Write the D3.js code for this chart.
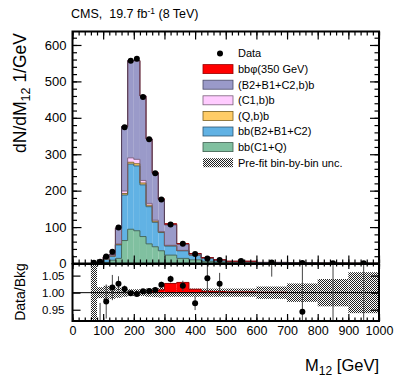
<!DOCTYPE html>
<html>
<head>
<meta charset="utf-8">
<script src="https://cdn.jsdelivr.net/npm/d3@7"></script>
<style>
body { margin: 0; background: #fff; }
svg { display: block; font-family: "Liberation Sans", Arial, sans-serif; }
</style>
</head>
<body>
<svg id="chart" width="399" height="379"></svg>
<script>
// bin edges in GeV
var binEdges = [60, 80, 100, 120, 140, 160, 180, 200, 220, 240, 260, 280, 300, 340, 380, 420, 460, 500, 600, 700, 800, 900, 1000];

// stacked backgrounds, bottom to top (per bin)
var bbC1Q     = [0.3, 1, 3, 9, 14, 63, 94, 90, 74, 54, 46, 35, 23, 14, 10, 6, 4, 2, 1, 0.5, 0.3, 0.2];
var bbB2B1C2  = [0.5, 2, 9, 11, 37, 125, 179, 178, 142, 102, 67, 50, 25, 21, 13, 8, 4, 3, 1.5, 0.7, 0.4, 0.2];
var QbB       = [0, 0, 0, 0.5, 1, 4, 5, 6, 5, 4, 3, 1.5, 1, 0.5, 0.3, 0.2, 0.1, 0.1, 0, 0, 0, 0];
var C1bB      = [0.1, 0.2, 0.5, 1, 2, 7, 12, 12, 7, 5, 3, 1.5, 1, 0.5, 0.3, 0.2, 0.1, 0.1, 0.1, 0.05, 0.02, 0.02];
var B2B1C2bB  = [0.3, 1.3, 5.5, 3.5, 43, 177, 267, 271, 232, 177, 129, 88, 56, 17, 3.4, 1.6, 1.8, 0.8, 0.4, 0.25, 0.18, 0.08];
var bbPhi350  = [0, 0, 0, 0, 0, 0, 0, 0, 0, 0, 1.2, 1.4, 2.9, 1.6, 0.27, 0.06, 0.04, 0.01, 0, 0, 0, 0];

var dataValues = [2, 5, 19, 32, 99, 374, 557, 562, 457, 341, 248, 176, 107, 54, 26, 14, 9.6, 7, 3, 1.4, 1, 0.5];

// ratio panel
var ratioValues = [0.6, 0.85, 0.974, 1.015, 1.026, 1.011, 0.998, 0.996, 1.004, 1.005, 1.008, 1.023, 1.04, 1.02, 0.969, 1.042, 1.026, 1.12, 1.11, 0.944, 0.75, 0.7];
var ratioErrors = [0.2, 0.12, 0.05, 0.037, 0.022, 0.01, 0.005, 0.005, 0.006, 0.007, 0.008, 0.009, 0.01, 0.015, 0.02, 0.045, 0.032, 0.03, 0.063, 0.2, 0.4, 0.45];
var ratioSignal = [0, 0, 0, 0, 0, 0, 0, 0, 0, 0, 0.005, 0.008, 0.027, 0.03, 0.01, 0.004, 0.003, 0.002, 0.001, 0, 0, 0];
var relUnc      = [0.2, 0.016, 0.02, 0.018, 0.015, 0.012, 0.01, 0.01, 0.01, 0.012, 0.013, 0.014, 0.012, 0.012, 0.012, 0.012, 0.012, 0.012, 0.018, 0.027, 0.04, 0.06];

var xTicks = d3.range(0, 1001, 100);
var yTicksMain = [0, 100, 200, 300, 400, 500, 600];
var yTicksRatio = [0.95, 1.00, 1.05];

var legendLabels = ["bb\u03C6(350 GeV)", "(B2+B1+C2,b)b", "(C1,b)b", "(Q,b)b", "bb(B2+B1+C2)", "bb(C1+Q)"];

var svg = d3.select('#chart');

var left = 72.5, right = 379;
var mainTop = 31.5, mainBottom = 263.5;
var ratioTop = 264, ratioBottom = 321;

var x = d3.scaleLinear().domain([0, 1000]).range([left, right]);
var y = d3.scaleLinear().domain([0, 637]).range([mainBottom, mainTop]);
var yr = d3.scaleLinear().domain([0.917, 1.084]).range([ratioBottom, ratioTop]);

// hatch pattern
var defs = svg.append('defs');
var pat = defs.append('pattern').attr('id', 'hatch')
	.attr('patternUnits', 'userSpaceOnUse').attr('width', 2).attr('height', 2);
pat.append('rect').attr('x', 0).attr('y', 0).attr('width', 1).attr('height', 1).attr('fill', '#222');
pat.append('rect').attr('x', 1).attr('y', 1).attr('width', 1).attr('height', 1).attr('fill', '#222');

defs.append('clipPath').attr('id', 'clipMain').append('rect')
	.attr('x', left).attr('y', mainTop).attr('width', right - left).attr('height', mainBottom - mainTop);
defs.append('clipPath').attr('id', 'clipRatio').append('rect')
	.attr('x', left).attr('y', ratioTop).attr('width', right - left).attr('height', ratioBottom - ratioTop);

// stack
var layers = [
	{vals: bbC1Q,    fill: '#80c0a0', line: '#3d5f4f'},
	{vals: bbB2B1C2, fill: '#61b2e4', line: '#2f5670'},
	{vals: QbB,      fill: '#ffcc66', line: '#7a5f20'},
	{vals: C1bB,     fill: '#ffccff', line: '#7a5f7a'},
	{vals: B2B1C2bB, fill: '#9a9ac9', line: '#4a4a66'},
	{vals: bbPhi350, fill: '#ff0000', line: '#990000'}
];
var nb = dataValues.length;
var cum = new Array(nb).fill(0);
layers.forEach(function(l) {
	l.low = cum.slice();
	l.high = cum.map(function(c, i) { return c + l.vals[i]; });
	cum = l.high;
});

var gMain = svg.append('g').attr('clip-path', 'url(#clipMain)');

layers.forEach(function(l) {
	gMain.selectAll(null).data(d3.range(nb)).enter().append('rect')
		.attr('x', function(i) { return x(binEdges[i]); })
		.attr('width', function(i) { return x(binEdges[i + 1]) - x(binEdges[i]); })
		.attr('y', function(i) { return y(l.high[i]); })
		.attr('height', function(i) { return Math.max(0, y(l.low[i]) - y(l.high[i])); })
		.attr('fill', l.fill);
});

// outlines: signal first so the background outline covers it where it is empty
var step = d3.line().x(function(d) { return x(d[0]); }).y(function(d) { return y(d[1]); }).curve(d3.curveStepAfter);
[5, 0, 1, 2, 3, 4].forEach(function(k) {
	var l = layers[k];
	var pts = [[binEdges[0], 0]];
	for (var i = 0; i < nb; i++) pts.push([binEdges[i], l.high[i]]);
	pts.push([binEdges[nb], l.high[nb - 1]]);
	pts.push([binEdges[nb], 0]);
	gMain.append('path').attr('d', step(pts)).attr('fill', 'none')
		.attr('stroke', l.line).attr('stroke-width', 0.9);
});
// signal outline on top where it is non-zero
var sigTop = [];
for (var i = 0; i < nb; i++) if (bbPhi350[i] > 0) sigTop.push(i);
gMain.selectAll(null).data(sigTop).enter().append('line')
	.attr('x1', function(i) { return x(binEdges[i]); })
	.attr('x2', function(i) { return x(binEdges[i + 1]); })
	.attr('y1', function(i) { return y(layers[5].high[i]); })
	.attr('y2', function(i) { return y(layers[5].high[i]); })
	.attr('stroke', '#990000').attr('stroke-width', 0.9);

// data points
gMain.selectAll(null).data(d3.range(nb)).enter().append('circle')
	.attr('cx', function(i) { return x((binEdges[i] + binEdges[i + 1]) / 2); })
	.attr('cy', function(i) { return y(dataValues[i]); })
	.attr('r', 3).attr('fill', '#000');

// ratio panel
var gRatio = svg.append('g').attr('clip-path', 'url(#clipRatio)');
gRatio.selectAll(null).data(d3.range(nb)).enter().append('rect')
	.attr('x', function(i) { return x(binEdges[i]); })
	.attr('width', function(i) { return x(binEdges[i + 1]) - x(binEdges[i]); })
	.attr('y', function(i) { return yr(1 + relUnc[i]); })
	.attr('height', function(i) { return yr(1 - relUnc[i]) - yr(1 + relUnc[i]); })
	.attr('fill', 'url(#hatch)');

gRatio.selectAll(null).data(d3.range(nb).filter(function(i) { return ratioSignal[i] > 0; })).enter().append('rect')
	.attr('x', function(i) { return x(binEdges[i]); })
	.attr('width', function(i) { return x(binEdges[i + 1]) - x(binEdges[i]); })
	.attr('y', function(i) { return yr(1 + ratioSignal[i]); })
	.attr('height', function(i) { return yr(1) - yr(1 + ratioSignal[i]); })
	.attr('fill', '#ff0000');

var sigPts = [];
for (var i = 0; i < nb; i++) if (ratioSignal[i] > 0) sigPts.push([binEdges[i], 1 + ratioSignal[i]]);
sigPts.push([binEdges[nb - 3], 1]);
gRatio.append('path')
	.attr('d', d3.line().x(function(d) { return x(d[0]); }).y(function(d) { return yr(d[1]); }).curve(d3.curveStepAfter)(sigPts))
	.attr('fill', 'none').attr('stroke', '#990000').attr('stroke-width', 1);

gRatio.append('line').attr('x1', left).attr('x2', right).attr('y1', yr(1)).attr('y2', yr(1))
	.attr('stroke', '#000').attr('stroke-width', 1);

gRatio.selectAll(null).data(d3.range(nb)).enter().append('line')
	.attr('x1', function(i) { return x((binEdges[i] + binEdges[i + 1]) / 2); })
	.attr('x2', function(i) { return x((binEdges[i] + binEdges[i + 1]) / 2); })
	.attr('y1', function(i) { return yr(ratioValues[i] - ratioErrors[i]); })
	.attr('y2', function(i) { return yr(ratioValues[i] + ratioErrors[i]); })
	.attr('stroke', '#444').attr('stroke-width', 1);

gRatio.selectAll(null).data(d3.range(nb)).enter().append('circle')
	.attr('cx', function(i) { return x((binEdges[i] + binEdges[i + 1]) / 2); })
	.attr('cy', function(i) { return yr(ratioValues[i]); })
	.attr('r', 3).attr('fill', '#000');

// axes / ticks
function ticks(axis, tx, ty) {
	var g = svg.append('g').attr('transform', 'translate(' + tx + ',' + ty + ')').call(axis);
	g.select('.domain').remove();
	g.selectAll('line').attr('stroke', '#000').attr('stroke-width', 1.2);
	return g;
}
var minorX = d3.range(0, 1001, 20);
var minorYMain = d3.range(0, 637, 20);

ticks(d3.axisLeft(y).tickValues(minorYMain).tickSize(-4.5).tickFormat(''), left, 0);
ticks(d3.axisRight(y).tickValues(minorYMain).tickSize(-4.5).tickFormat(''), right, 0);
var gyl = ticks(d3.axisLeft(y).tickValues(yTicksMain).tickSize(-9).tickPadding(6), left, 0);
gyl.selectAll('text').style('font-size', '13px').attr('fill', '#000');
ticks(d3.axisRight(y).tickValues(yTicksMain).tickSize(-9).tickFormat(''), right, 0);

ticks(d3.axisTop(x).tickValues(minorX).tickSize(-4).tickFormat(''), 0, mainTop);
ticks(d3.axisTop(x).tickValues(xTicks).tickSize(-8).tickFormat(''), 0, mainTop);
ticks(d3.axisBottom(x).tickValues(minorX).tickSize(-4).tickFormat(''), 0, mainBottom);
ticks(d3.axisBottom(x).tickValues(xTicks).tickSize(-8).tickFormat(''), 0, mainBottom);

ticks(d3.axisTop(x).tickValues(minorX).tickSize(-2.5).tickFormat(''), 0, ratioTop);
ticks(d3.axisTop(x).tickValues(xTicks).tickSize(-5).tickFormat(''), 0, ratioTop);
ticks(d3.axisBottom(x).tickValues(minorX).tickSize(-3.5).tickFormat(''), 0, ratioBottom);
var gxb = ticks(d3.axisBottom(x).tickValues(xTicks).tickSize(-7).tickPadding(5).tickFormat(d3.format('d')), 0, ratioBottom);
gxb.selectAll('text').style('font-size', '12.5px').attr('fill', '#000');

var gyr = ticks(d3.axisLeft(yr).tickValues(yTicksRatio).tickSize(-8).tickPadding(8).tickFormat(d3.format('.2f')), left, 0);
gyr.selectAll('text').style('font-size', '11.5px').attr('fill', '#000');
ticks(d3.axisRight(yr).tickValues(yTicksRatio).tickSize(-8).tickFormat(''), right, 0);

// frames
svg.append('rect').attr('x', left).attr('y', mainTop).attr('width', right - left).attr('height', mainBottom - mainTop)
	.attr('fill', 'none').attr('stroke', '#000').attr('stroke-width', 2);
svg.append('rect').attr('x', left).attr('y', ratioTop).attr('width', right - left).attr('height', ratioBottom - ratioTop)
	.attr('fill', 'none').attr('stroke', '#000').attr('stroke-width', 2);

// legend
var legX = 203, legY0 = 53.5, legDy = 15.6;
var leg = svg.append('g').style('font-size', '11px');
leg.append('circle').attr('cx', 220).attr('cy', legY0).attr('r', 3).attr('fill', '#000');
leg.append('text').attr('x', 238).attr('y', legY0).attr('dy', '0.35em').text('Data');
var legendLayers = [layers[5], layers[4], layers[3], layers[2], layers[1], layers[0]];
legendLayers.forEach(function(l, k) {
	var cy = legY0 + (k + 1) * legDy;
	leg.append('rect').attr('x', legX).attr('y', cy - 4.5).attr('width', 30).attr('height', 9)
		.attr('fill', l.fill).attr('stroke', l.line).attr('stroke-width', 0.8);
	leg.append('text').attr('x', 238).attr('y', cy).attr('dy', '0.35em').text(legendLabels[k]);
});
var cyU = legY0 + 7 * legDy;
leg.append('rect').attr('x', legX).attr('y', cyU - 4.5).attr('width', 30).attr('height', 9).attr('fill', 'url(#hatch)');
leg.append('text').attr('x', 238).attr('y', cyU).attr('dy', '0.35em').text('Pre-fit bin-by-bin unc.');

// titles
var t = svg.append('text').attr('x', 71).attr('y', 18).style('font-size', '12.5px');
t.append('tspan').text('CMS,\u00a0\u00a019.7 fb');
t.append('tspan').attr('dy', -4).style('font-size', '8.5px').text('-1');
t.append('tspan').attr('dy', 4).text(' (8 TeV)');

var yt = svg.append('text').attr('transform', 'translate(26,33) rotate(-90)')
	.attr('text-anchor', 'end').style('font-size', '17.5px');
yt.append('tspan').text('dN/dM');
yt.append('tspan').attr('dy', 4).style('font-size', '12.5px').text('12');
yt.append('tspan').attr('dy', -4).text(' 1/GeV');

svg.append('text').attr('transform', 'translate(25,292) rotate(-90)')
	.attr('text-anchor', 'middle').style('font-size', '14px').text('Data/Bkg');

var xt = svg.append('text').attr('x', 379).attr('y', 371).attr('text-anchor', 'end').style('font-size', '16.5px');
xt.append('tspan').text('M');
xt.append('tspan').attr('dy', 4).style('font-size', '12px').text('12');
xt.append('tspan').attr('dy', -4).text(' [GeV]');
</script>
</body>
</html>
